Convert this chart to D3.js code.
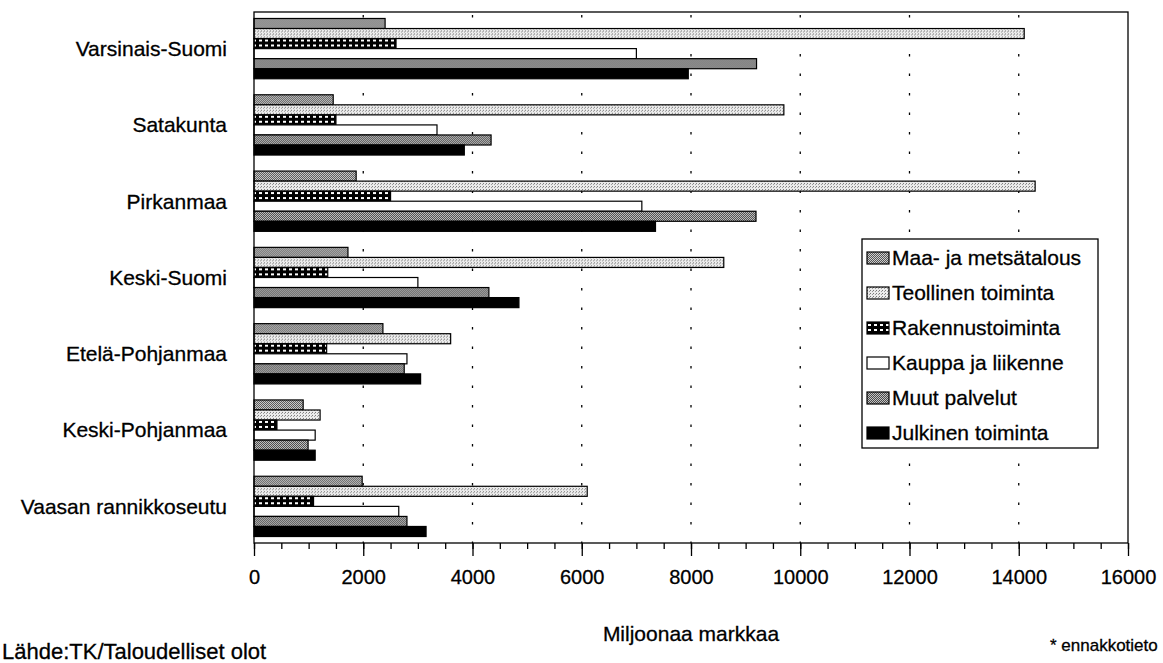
<!DOCTYPE html>
<html>
<head>
<meta charset="utf-8">
<script src="https://cdn.jsdelivr.net/npm/d3@7"></script>
<style>
  body { margin: 0; background: #fff; }
  svg { font-family: 'Liberation Sans', Arial, sans-serif; }
  svg text { stroke: #000; stroke-width: 0.3px; }
</style>
</head>
<body>
<div id="main"></div>
<script>
const regions = ['Varsinais-Suomi', 'Satakunta', 'Pirkanmaa', 'Keski-Suomi', 'Etelä-Pohjanmaa', 'Keski-Pohjanmaa', 'Vaasan rannikkoseutu'];
const sectors = ['Maa- ja metsätalous', 'Teollinen toiminta', 'Rakennustoiminta', 'Kauppa ja liikenne', 'Muut palvelut', 'Julkinen toiminta'];

// Miljoonaa markkaa, one value per region
const maaMetsa = [2400, 1450, 1870, 1720, 2360, 900, 1980];
const teollinen = [14100, 9700, 14300, 8600, 3600, 1210, 6100];
const rakennus = [2600, 1500, 2500, 1350, 1330, 420, 1090];
const kauppa = [7000, 3350, 7100, 3000, 2800, 1120, 2650];
const muutPalvelut = [9200, 4340, 9190, 4300, 2750, 990, 2800];
const julkinen = [7950, 3850, 7350, 4850, 3050, 1120, 3150];

const seriesValues = [maaMetsa, teollinen, rakennus, kauppa, muutPalvelut, julkinen];
const xMax = 16000;

const width = 1163;
const height = 663;
const plot = { left: 254, top: 12, right: 1128, bottom: 543 };

const svg = d3.select('#main')
  .append('svg')
  .attr('width', width)
  .attr('height', height);

// fill patterns like the printed original
const defs = svg.append('defs');

const maaPat = defs.append('pattern').attr('id', 'p0')
  .attr('patternUnits', 'userSpaceOnUse').attr('width', 2).attr('height', 2);
maaPat.append('rect').attr('width', 2).attr('height', 2).attr('fill', '#cfcfcf');
maaPat.append('rect').attr('width', 1).attr('height', 1).attr('fill', '#555');
maaPat.append('rect').attr('x', 1).attr('y', 1).attr('width', 1).attr('height', 1).attr('fill', '#555');

const teolPat = defs.append('pattern').attr('id', 'p1')
  .attr('patternUnits', 'userSpaceOnUse').attr('width', 3).attr('height', 3);
teolPat.append('rect').attr('width', 3).attr('height', 3).attr('fill', '#ececec');
teolPat.append('rect').attr('width', 1).attr('height', 1).attr('fill', '#777');
teolPat.append('rect').attr('x', 2).attr('y', 1).attr('width', 1).attr('height', 1).attr('fill', '#999');

const rakPat = defs.append('pattern').attr('id', 'p2')
  .attr('patternUnits', 'userSpaceOnUse').attr('width', 6).attr('height', 5);
rakPat.append('rect').attr('width', 6).attr('height', 5).attr('fill', '#000');
rakPat.append('rect').attr('x', 1).attr('y', 1).attr('width', 3).attr('height', 2).attr('fill', '#fff');

const muutPat = defs.append('pattern').attr('id', 'p4')
  .attr('patternUnits', 'userSpaceOnUse').attr('width', 2).attr('height', 2);
muutPat.append('rect').attr('width', 2).attr('height', 2).attr('fill', '#c4c4c4');
muutPat.append('rect').attr('width', 1).attr('height', 1).attr('fill', '#4a4a4a');
muutPat.append('rect').attr('x', 1).attr('y', 1).attr('width', 1).attr('height', 1).attr('fill', '#4a4a4a');

const fills = ['url(#p0)', 'url(#p1)', 'url(#p2)', '#fff', 'url(#p4)', '#000'];

const x = d3.scaleLinear()
  .domain([0, xMax])
  .range([plot.left, plot.right]);

const y = d3.scaleBand()
  .domain(regions)
  .range([plot.top, plot.bottom])
  .paddingInner(0.21)
  .paddingOuter(0.085);

const ySub = d3.scaleBand()
  .domain(sectors)
  .range([0, y.bandwidth()]);

// dotted gridlines
svg.append('g')
  .selectAll('line')
  .data(x.ticks(8).filter((d) => d > 0 && d < xMax))
  .enter()
  .append('line')
  .attr('x1', (d) => x(d))
  .attr('x2', (d) => x(d))
  .attr('y1', plot.top + 3)
  .attr('y2', plot.bottom)
  .attr('stroke', '#000')
  .attr('stroke-width', 1.3)
  .attr('stroke-dasharray', '2.5,17');

// bars
const rows = regions.map((r, i) => ({ region: r, values: seriesValues.map((s, k) => ({ sector: sectors[k], k, value: s[i] })) }));

svg.append('g')
  .selectAll('g')
  .data(rows)
  .enter()
  .append('g')
  .attr('transform', (d) => `translate(0,${y(d.region)})`)
  .selectAll('rect')
  .data((d) => d.values)
  .enter()
  .append('rect')
  .attr('x', x(0))
  .attr('y', (d) => ySub(d.sector))
  .attr('width', (d) => x(d.value) - x(0))
  .attr('height', ySub.bandwidth())
  .attr('fill', (d) => fills[d.k])
  .attr('stroke', '#000')
  .attr('stroke-width', 1.2);

// frame
svg.append('rect')
  .attr('x', plot.left)
  .attr('y', plot.top)
  .attr('width', plot.right - plot.left)
  .attr('height', plot.bottom - plot.top)
  .attr('fill', 'none')
  .attr('stroke', '#000')
  .attr('stroke-width', 1.3);

// x axis with minor ticks
const xAxis = svg.append('g')
  .attr('transform', `translate(0,${plot.bottom})`);

xAxis.append('g')
  .call(d3.axisBottom(x).tickValues(d3.range(0, xMax + 1, 500)).tickSize(6).tickFormat(''))
  .call((g) => g.select('.domain').remove());

xAxis.append('g')
  .call(d3.axisBottom(x).ticks(8).tickSize(13).tickPadding(14).tickFormat(d3.format('d')))
  .call((g) => g.select('.domain').remove())
  .call((g) => g.selectAll('text')
    .attr('font-size', 20)
    .attr('font-family', 'Liberation Sans, Arial, sans-serif')
    .attr('fill', '#000'));

xAxis.selectAll('line').attr('stroke', '#000').attr('stroke-width', 1.3);

// category labels
svg.append('g')
  .selectAll('text')
  .data(regions)
  .enter()
  .append('text')
  .attr('x', 227)
  .attr('y', (d) => y(d) + y.bandwidth() / 2)
  .attr('dy', '0.35em')
  .attr('text-anchor', 'end')
  .attr('font-size', 21)
  .text((d) => d);

// legend
const legend = svg.append('g').attr('transform', 'translate(862,239)');

legend.append('rect')
  .attr('width', 236)
  .attr('height', 209)
  .attr('fill', '#fff')
  .attr('stroke', '#000')
  .attr('stroke-width', 1.3);

const items = legend.selectAll('g.item')
  .data(sectors)
  .enter()
  .append('g')
  .attr('class', 'item')
  .attr('transform', (d, i) => `translate(5,${19 + i * 35})`);

items.append('rect')
  .attr('x', 0)
  .attr('y', -6)
  .attr('width', 22)
  .attr('height', 12)
  .attr('fill', (d, i) => fills[i])
  .attr('stroke', '#000')
  .attr('stroke-width', 1.2);

items.append('text')
  .attr('x', 25)
  .attr('dy', '0.35em')
  .attr('font-size', 21)
  .text((d) => d);

// titles and notes
svg.append('text')
  .attr('x', (plot.left + plot.right) / 2)
  .attr('y', 641)
  .attr('text-anchor', 'middle')
  .attr('font-size', 21)
  .text('Miljoonaa markkaa');

svg.append('text')
  .attr('x', 1050)
  .attr('y', 651)
  .attr('font-size', 17)
  .text('* ennakkotieto');

svg.append('text')
  .attr('x', 2)
  .attr('y', 659)
  .attr('font-size', 22)
  .text('Lähde:TK/Taloudelliset olot');
</script>
</body>
</html>
